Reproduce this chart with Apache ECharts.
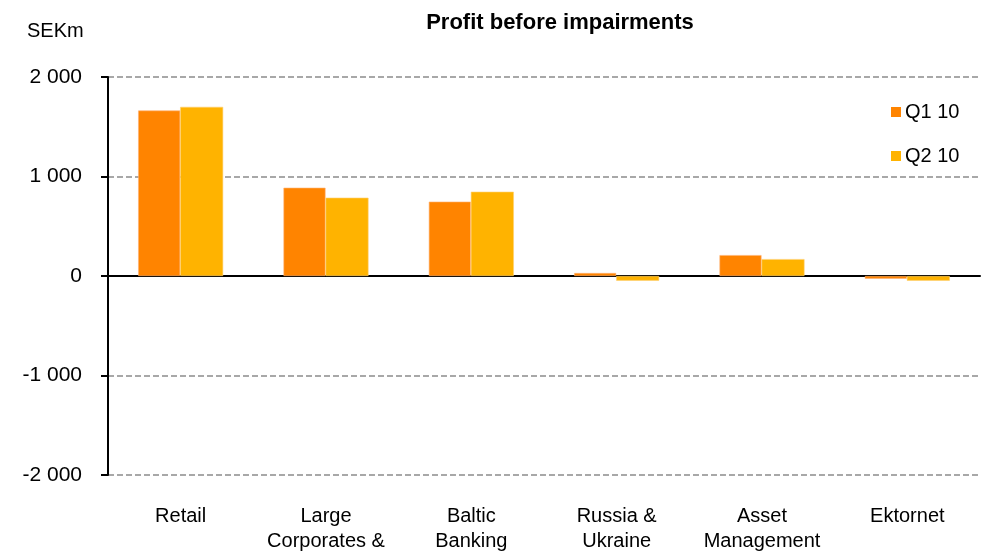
<!DOCTYPE html>
<html>
<head>
<meta charset="utf-8">
<script src="https://cdn.jsdelivr.net/npm/echarts@6/dist/echarts.min.js"></script>
<style>html,body{margin:0;padding:0;background:#fff}#c{width:994px;height:554px}</style>
</head>
<body>
<div id="c"></div>
<script>
const categories = ['Retail', 'Large\nCorporates &', 'Baltic\nBanking', 'Russia &\nUkraine', 'Asset\nManagement', 'Ektornet'];
const q1Values = [1663, 887, 747, 30, 210, -27];
const q2Values = [1700, 787, 847, -47, 170, -47];
const seriesNames = ['Q1 10', 'Q2 10'];
const yTicks = [-2000, -1000, 0, 1000, 2000];

const FONT = 'Liberation Sans, Arial, sans-serif';
function fmt(v) {
  const s = Math.abs(v).toString().replace(/\B(?=(\d{3})+(?!\d))/g, ' ');
  return (v < 0 ? '-' : '') + s;
}
const chart = echarts.init(document.getElementById('c'), null, {renderer: 'canvas'});
chart.setOption({
  animation: false,
  backgroundColor: '#fff',
  title: {
    text: 'Profit before impairments',
    left: 555, top: 7, textAlign: 'center',
    textStyle: {fontFamily: FONT, fontWeight: 'bold', fontSize: 22, color: '#000'}
  },
  graphic: [{
    type: 'text', left: 27, top: 21,
    style: {text: 'SEKm', font: '20px ' + FONT, fill: '#000'}
  }],
  legend: {
    orient: 'vertical', left: 886, top: 97,
    itemWidth: 10, itemHeight: 10, itemGap: 24,
    icon: 'rect',
    itemStyle: {borderWidth: 0},
    textStyle: {fontFamily: FONT, fontSize: 20, color: '#000', padding: [0, 0, 0, -1]},
    data: seriesNames
  },
  grid: {left: 108, right: 14, top: 77, bottom: 76},
  xAxis: [{
    type: 'category', data: categories, position: 'bottom',
    axisLine: {show: false, onZero: false}, axisTick: {show: false},
    axisLabel: {fontFamily: FONT, fontSize: 20, color: '#000', margin: 29, lineHeight: 25, interval: 0}
  }, {
    type: 'category', data: categories,
    axisLine: {show: true, onZero: true, lineStyle: {color: '#000', width: 2}},
    axisTick: {show: false}, axisLabel: {show: false}
  }],
  yAxis: {
    type: 'value', min: yTicks[0], max: yTicks[yTicks.length - 1], interval: 1000,
    axisLine: {show: true, lineStyle: {color: '#000', width: 2}},
    axisTick: {show: true, length: 7, lineStyle: {color: '#000', width: 2}},
    axisLabel: {fontFamily: FONT, fontSize: 21, color: '#000', margin: 26, formatter: fmt},
    splitLine: {show: true, lineStyle: {color: '#8c8c8c', type: [6, 3], width: 1.5}}
  },
  series: [{
    name: seriesNames[0], type: 'bar', data: q1Values, barWidth: 42, barGap: '0%',
    itemStyle: {color: '#FF8400', borderColor: '#FFB070', borderWidth: 0.6}
  }, {
    name: seriesNames[1], type: 'bar', data: q2Values, barWidth: 43, barGap: '0%',
    itemStyle: {color: '#FFB300', borderColor: '#FFD070', borderWidth: 0.6}
  }]
});
</script>
</body>
</html>
